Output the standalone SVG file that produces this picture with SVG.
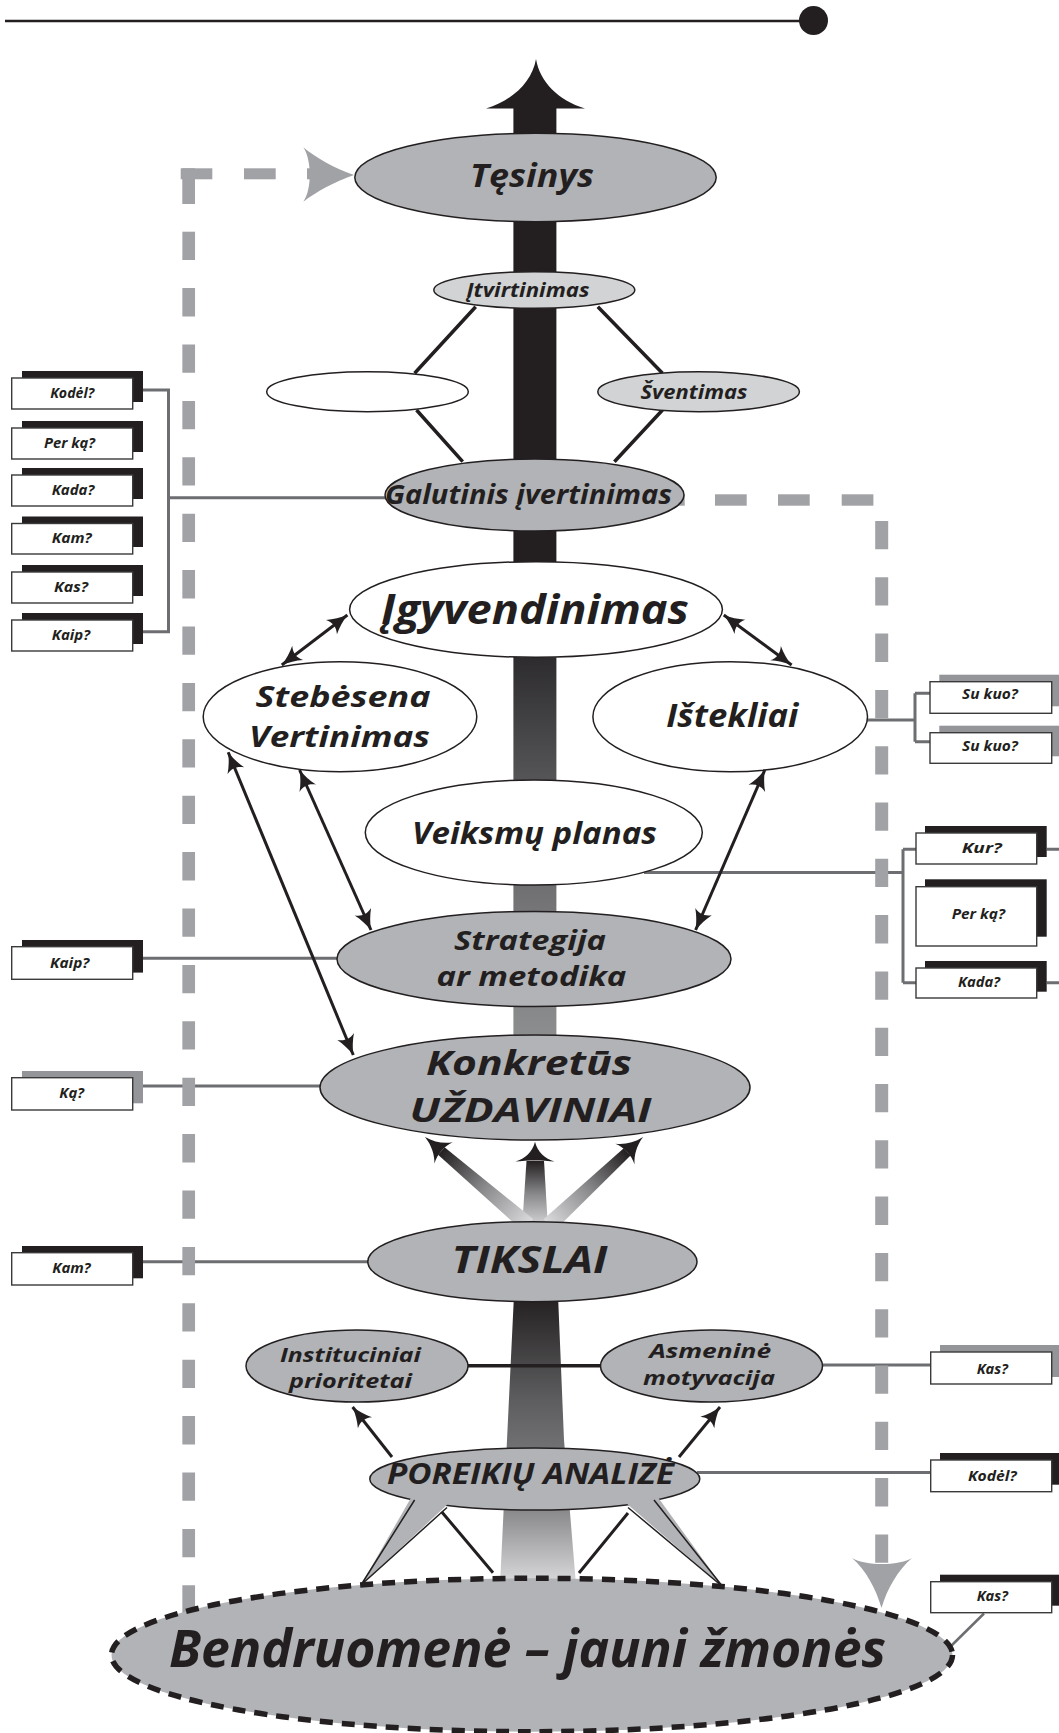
<svg xmlns="http://www.w3.org/2000/svg" width="1059" height="1733" viewBox="0 0 1059 1733">
<style>
.t{font-family:"Open Sans","Liberation Sans",sans-serif;font-weight:700;font-style:italic;fill:#231f20;text-anchor:middle}
.q{font-size:13.5px}
.e{stroke:#231f20;stroke-width:1.5}
.g{fill:#b1b3b6}
.lg{fill:#d1d3d4}
.w{fill:#fff}
.box{fill:#fff;stroke:#3a3a3a;stroke-width:1.4}
.sb{fill:#231f20}
.sg{fill:#939598}
.con{fill:none;stroke:#6d6e71;stroke-width:3}
.dash{fill:#a1a2a5}
.blk{fill:none;stroke:#231f20;stroke-width:3.5}
.arr{fill:none;stroke:#231f20;stroke-width:3;marker-start:url(#ah);marker-end:url(#ah)}
.arr1{fill:none;stroke:#231f20;stroke-width:3;marker-end:url(#ah)}
</style>
<defs>
<marker id="ah" viewBox="-21 -10 22 20" refX="0" refY="0" markerWidth="22" markerHeight="20" markerUnits="userSpaceOnUse" orient="auto-start-reverse">
<path d="M0,0 C-7,-2 -14,-5 -20,-9 C-16,-3 -16,3 -20,9 C-14,5 -7,2 0,0 Z" fill="#231f20"/>
</marker>
<linearGradient id="shaftG" gradientUnits="userSpaceOnUse" x1="0" y1="108" x2="0" y2="1045">
<stop offset="0" stop-color="#231f20"/>
<stop offset="0.482" stop-color="#231f20"/>
<stop offset="0.589" stop-color="#2e2c2e"/>
<stop offset="0.717" stop-color="#555557"/>
<stop offset="0.845" stop-color="#737376"/>
<stop offset="1" stop-color="#8e8f91"/>
</linearGradient>
<linearGradient id="trunkG" gradientUnits="userSpaceOnUse" x1="0" y1="1295" x2="0" y2="1585">
<stop offset="0" stop-color="#231f20"/>
<stop offset="0.362" stop-color="#5d5d5f"/>
<stop offset="0.752" stop-color="#8c8c8e"/>
<stop offset="1" stop-color="#dcdcde"/>
</linearGradient>
<linearGradient id="armG" x1="0" y1="1" x2="0" y2="0">
<stop offset="0" stop-color="#dadadc"/>
<stop offset="0.5" stop-color="#8a8a8c"/>
<stop offset="1" stop-color="#231f20"/>
</linearGradient>
</defs>

<g id="topline">
<line x1="5" y1="21" x2="805" y2="21" stroke="#231f20" stroke-width="2.6"/>
<ellipse cx="813.5" cy="20.5" rx="14.5" ry="14.5" fill="#231f20"/>
</g>

<g id="spine">
<rect x="513.4" y="106" width="43" height="940" fill="url(#shaftG)"/>
<path d="M536,59 C540,82 558,100 585,108.5 L486,108.5 C513,100 532,82 536,59 Z" fill="#231f20"/>
<path d="M514,1295 L558,1295 L564,1440 L576,1585 L500,1585 L507,1440 Z" fill="url(#trunkG)"/>
</g>

<g id="goal-arrows">
<g transform="translate(535,1228)">
<path d="M-13,0 L13,0 L9,-67 L-8.5,-67 Z" fill="url(#armG)"/>
<path d="M0,-86.3 C2.5,-76 10,-69.5 19.5,-66.5 C8,-68 -8,-68 -19.5,-66.5 C-10,-69.5 -2.5,-76 0,-86.3 Z" fill="#231f20"/>
</g>
<g transform="translate(528,1225) rotate(-49.5)">
<path d="M-8,0 L8,0 L5,-114 L-5,-114 Z" fill="url(#armG)"/>
<path d="M0,-135.5 C2,-125 7,-117 14,-111 C5,-115 -5,-115 -14,-111 C-7,-117 -2,-125 0,-135.5 Z" fill="#231f20"/>
</g>
<g transform="translate(549,1225) rotate(46.9)">
<path d="M-8,0 L8,0 L5,-107 L-5,-107 Z" fill="url(#armG)"/>
<path d="M0,-128.8 C2,-118 7,-110 14,-104 C5,-108 -5,-108 -14,-104 C-7,-110 -2,-118 0,-128.8 Z" fill="#231f20"/>
</g>
</g>

<g id="connectors">
<path class="blk" d="M475.7,306.7 L414.6,373.3 M597.8,306.7 L662.5,373.3 M416.5,410 L462.7,461.7 M662.5,410 L614.4,461.7"/>
<path class="con" d="M142.7,390 H168.5 V631.7 H142.7 M168.5,497.7 H390"/>
<path class="con" d="M142.7,958.3 H340 M142.7,1086 H322 M142.7,1261.7 H370"/>
<path class="con" d="M866,720 H915 M915,693.3 V741.7 M915,693.3 H930 M915,741.7 H930"/>
<path class="con" d="M644,872.5 H903 M903,849.3 V982.7 M903,849.3 H916 M903,982.7 H916 M1046.7,849.3 H1059 M1046.7,982.7 H1059"/>
<path class="con" d="M820,1365 H930.7 M697,1472.5 H930.7"/>
<path d="M984,1613.5 L949,1648" fill="none" stroke="#6d6e71" stroke-width="2.5"/>
<path class="blk" d="M468,1365.7 H601" stroke-width="3"/>
</g>

<g id="loop">
<rect class="dash" x="180.7" y="168.3" width="31.6" height="11"/>
<rect class="dash" x="182.3" y="168.3" width="12.7" height="35.7"/>
<rect class="dash" x="244" y="168.3" width="31.7" height="11"/>
<rect class="dash" x="307" y="168.3" width="10" height="11"/>
<line x1="188.7" y1="231.7" x2="188.7" y2="1640" stroke="#a1a2a5" stroke-width="12.7" stroke-dasharray="28.3 28.1"/>
<path d="M354,175 C334,168 316,158 303.3,147.3 C312,160 312,190 303.3,201.7 C316,192 334,182 354,175 Z" fill="#a1a2a5"/>
<rect class="dash" x="653" y="494.3" width="31.7" height="11.4"/>
<rect class="dash" x="715" y="494.3" width="31.7" height="11.4"/>
<rect class="dash" x="778" y="494.3" width="31.7" height="11.4"/>
<rect class="dash" x="841.7" y="494.3" width="31.7" height="11.4"/>
<line x1="881.7" y1="521" x2="881.7" y2="1563" stroke="#a1a2a5" stroke-width="13" stroke-dasharray="28.3 28"/>
<path d="M881.5,1608 C876,1589 866,1570 852,1558 C866,1566 898,1566 912,1558 C898,1570 887,1589 881.5,1608 Z" fill="#a1a2a5"/>
</g>

<g id="n-tesinys">
<ellipse class="e g" cx="535.5" cy="177.5" rx="180.7" ry="44.2"/>
<text class="t" x="532" y="187" font-size="32" textLength="124" lengthAdjust="spacingAndGlyphs">Tęsinys</text>
</g>
<g id="n-itvirtinimas">
<ellipse class="e lg" cx="534.3" cy="290" rx="100.5" ry="18.3"/>
<text class="t" x="528" y="296.5" font-size="20" textLength="123" lengthAdjust="spacingAndGlyphs">Įtvirtinimas</text>
</g>
<g id="n-empty">
<ellipse class="e w" cx="367.5" cy="391.7" rx="100.8" ry="20"/>
</g>
<g id="n-sventimas">
<ellipse class="e lg" cx="698.6" cy="391.7" rx="100.8" ry="20"/>
<text class="t" x="694" y="399" font-size="20" textLength="107" lengthAdjust="spacingAndGlyphs">Šventimas</text>
</g>
<g id="n-galutinis">
<ellipse class="e g" cx="534.5" cy="495" rx="149.5" ry="36"/>
<text class="t" x="528.5" y="503.5" font-size="26" textLength="287" lengthAdjust="spacingAndGlyphs">Galutinis įvertinimas</text>
</g>
<g id="n-igyvendinimas">
<ellipse class="e w" cx="536" cy="609.5" rx="186.4" ry="47.8"/>
<text class="t" x="535" y="624" font-size="42" textLength="308" lengthAdjust="spacingAndGlyphs">Įgyvendinimas</text>
</g>
<g id="n-stebesena">
<ellipse class="e w" cx="340" cy="716.7" rx="136.8" ry="55"/>
<text class="t" x="343" y="707" font-size="29" textLength="175" lengthAdjust="spacingAndGlyphs">Stebėsena</text>
<text class="t" x="339.5" y="747" font-size="29" textLength="181" lengthAdjust="spacingAndGlyphs">Vertinimas</text>
</g>
<g id="n-istekliai">
<ellipse class="e w" cx="730.2" cy="716.7" rx="137.3" ry="55"/>
<text class="t" x="732.3" y="727" font-size="33" textLength="132" lengthAdjust="spacingAndGlyphs">Ištekliai</text>
</g>
<g id="n-veiksmu">
<ellipse class="e w" cx="533.8" cy="832.5" rx="168.5" ry="52.5"/>
<text class="t" x="534.5" y="844" font-size="31" textLength="245" lengthAdjust="spacingAndGlyphs">Veiksmų planas</text>
</g>
<g id="n-strategija">
<ellipse class="e g" cx="534" cy="959" rx="197" ry="47.5"/>
<text class="t" x="530" y="949.5" font-size="26" textLength="152" lengthAdjust="spacingAndGlyphs">Strategija</text>
<text class="t" x="531.4" y="985.5" font-size="26" textLength="190" lengthAdjust="spacingAndGlyphs">ar metodika</text>
</g>
<g id="n-konkretus">
<ellipse class="e g" cx="535" cy="1087.5" rx="215" ry="52.5"/>
<text class="t" x="528.9" y="1075" font-size="34" textLength="206" lengthAdjust="spacingAndGlyphs">Konkretūs</text>
<text class="t" x="530.5" y="1121.7" font-size="34" textLength="242" lengthAdjust="spacingAndGlyphs">UŽDAVINIAI</text>
</g>
<g id="n-tikslai">
<ellipse class="e g" cx="532.4" cy="1261.7" rx="164.6" ry="40"/>
<text class="t" x="529.5" y="1273" font-size="38" textLength="156" lengthAdjust="spacingAndGlyphs">TIKSLAI</text>
</g>
<g id="n-instituciniai">
<ellipse class="e g" cx="357" cy="1366" rx="111" ry="36"/>
<text class="t" x="350.4" y="1362" font-size="19" textLength="141" lengthAdjust="spacingAndGlyphs">Instituciniai</text>
<text class="t" x="350.5" y="1388" font-size="19" textLength="123" lengthAdjust="spacingAndGlyphs">prioritetai</text>
</g>
<g id="n-asmenine">
<ellipse class="e g" cx="711.5" cy="1366" rx="111" ry="36"/>
<text class="t" x="710.2" y="1358" font-size="19.5" textLength="122" lengthAdjust="spacingAndGlyphs">Asmeninė</text>
<text class="t" x="709" y="1385" font-size="19.5" textLength="132" lengthAdjust="spacingAndGlyphs">motyvacija</text>
</g>
<g id="n-bendruomene">
<ellipse cx="532" cy="1655" rx="420.5" ry="76.7" fill="#b1b3b6" stroke="#231f20" stroke-width="5.5" stroke-dasharray="13 9"/>
<text class="t" x="527.5" y="1667" font-size="52" textLength="717" lengthAdjust="spacingAndGlyphs">Bendruomenė – jauni žmonės</text>
</g>
<g id="n-poreikiu">
<ellipse class="e g" cx="534.8" cy="1479" rx="165" ry="31"/>
<path d="M412,1496 L361,1585 L449,1503 Z M626,1503 L723,1587 L657,1496 Z" fill="#b1b3b6"/>
<path d="M414.6,1500 L361,1585 L447,1507.5 M628,1507.5 L723,1587 L654,1500" fill="none" stroke="#231f20" stroke-width="1.5" stroke-linejoin="miter"/>
<path d="M441.6,1511.7 L493,1572.7 M628,1513 L579,1573" fill="none" stroke="#231f20" stroke-width="3"/>
<text class="t" x="530.5" y="1484" font-size="28" textLength="287" lengthAdjust="spacingAndGlyphs">POREIKIŲ ANALIZĖ</text>
</g>

<g id="arrows">
<line class="arr" x1="347.4" y1="615" x2="281.8" y2="665"/>
<line class="arr" x1="723.8" y1="615" x2="791.6" y2="665"/>
<line class="arr" x1="299.6" y1="770" x2="371" y2="930"/>
<line class="arr" x1="764.8" y1="770" x2="695.6" y2="930"/>
<line class="arr" x1="228.2" y1="752.3" x2="353.3" y2="1055"/>
<line class="arr1" x1="392" y1="1457" x2="352.6" y2="1407"/>
<line class="arr1" x1="679" y1="1457" x2="720" y2="1407"/>
</g>

<g id="q-left">
<g><rect class="sb" x="22" y="371" width="121" height="31"/><rect class="box" x="11.7" y="378" width="121" height="31"/><text class="t q" x="72.2" y="398" textLength="44" lengthAdjust="spacingAndGlyphs">Kodėl?</text></g>
<g><rect class="sb" x="22" y="421" width="121" height="31"/><rect class="box" x="11.7" y="428" width="121" height="31"/><text class="t q" x="69.5" y="447.5" textLength="51" lengthAdjust="spacingAndGlyphs">Per ką?</text></g>
<g><rect class="sb" x="22" y="468" width="121" height="31"/><rect class="box" x="11.7" y="475" width="121" height="31"/><text class="t q" x="73" y="495" textLength="42.6" lengthAdjust="spacingAndGlyphs">Kada?</text></g>
<g><rect class="sb" x="22" y="516.5" width="121" height="30.5"/><rect class="box" x="11.7" y="523.5" width="121" height="30.5"/><text class="t q" x="71.7" y="543" textLength="40" lengthAdjust="spacingAndGlyphs">Kam?</text></g>
<g><rect class="sb" x="22" y="565" width="121" height="31"/><rect class="box" x="11.7" y="572" width="121" height="31"/><text class="t q" x="71" y="592" textLength="34" lengthAdjust="spacingAndGlyphs">Kas?</text></g>
<g><rect class="sb" x="22" y="613" width="121" height="31"/><rect class="box" x="11.7" y="620" width="121" height="31"/><text class="t q" x="70.9" y="640" textLength="38.3" lengthAdjust="spacingAndGlyphs">Kaip?</text></g>
<g><rect class="sb" x="22" y="940" width="121" height="32.6"/><rect class="box" x="11.7" y="946.7" width="121" height="32.6"/><text class="t q" x="69.7" y="967.7" textLength="39.3" lengthAdjust="spacingAndGlyphs">Kaip?</text></g>
<g><rect class="sg" x="22" y="1071" width="121" height="32.3"/><rect class="box" x="11.7" y="1077.7" width="121" height="32.3"/><text class="t q" x="71.7" y="1097.7" textLength="24.7" lengthAdjust="spacingAndGlyphs">Ką?</text></g>
<g><rect class="sb" x="22" y="1246" width="121" height="32.3"/><rect class="box" x="11.7" y="1252.7" width="121" height="32.3"/><text class="t q" x="71.5" y="1273.3" textLength="38.4" lengthAdjust="spacingAndGlyphs">Kam?</text></g>
</g>

<g id="q-right">
<g><rect class="sg" x="939.3" y="674.7" width="121.7" height="31.6"/><rect class="box" x="930" y="681.7" width="121.7" height="31.6"/><text class="t q" x="990" y="699.3" textLength="56" lengthAdjust="spacingAndGlyphs">Su kuo?</text></g>
<g><rect class="sg" x="939.3" y="725.7" width="121.7" height="30.6"/><rect class="box" x="930" y="732.7" width="121.7" height="30.6"/><text class="t q" x="990" y="750.7" textLength="56" lengthAdjust="spacingAndGlyphs">Su kuo?</text></g>
<g><rect class="sb" x="925" y="826" width="121.7" height="31"/><rect class="box" x="916" y="833" width="120.7" height="31"/><text class="t q" x="981.7" y="853.3" textLength="40" lengthAdjust="spacingAndGlyphs">Kur?</text></g>
<g><rect class="sb" x="925" y="879.3" width="121.7" height="57.4"/><rect class="box" x="916" y="886.7" width="120.7" height="59.3"/><text class="t q" x="978.3" y="919.3" textLength="53.3" lengthAdjust="spacingAndGlyphs">Per ką?</text></g>
<g><rect class="sb" x="925" y="961" width="121.7" height="30.7"/><rect class="box" x="916" y="968" width="120.7" height="30"/><text class="t q" x="979" y="986.7" textLength="42" lengthAdjust="spacingAndGlyphs">Kada?</text></g>
<g><rect class="sg" x="940" y="1345" width="121" height="32"/><rect class="box" x="930.7" y="1352" width="121" height="32"/><text class="t q" x="992.3" y="1374" textLength="31.3" lengthAdjust="spacingAndGlyphs">Kas?</text></g>
<g><rect class="sb" x="940" y="1453" width="121" height="31.7"/><rect class="box" x="930.7" y="1460" width="121" height="31.7"/><text class="t q" x="992.3" y="1480.7" textLength="48.7" lengthAdjust="spacingAndGlyphs">Kodėl?</text></g>
<g><rect class="sb" x="940" y="1574.7" width="121" height="31"/><rect class="box" x="930.7" y="1581.7" width="121" height="31"/><text class="t q" x="992.3" y="1601" textLength="31.3" lengthAdjust="spacingAndGlyphs">Kas?</text></g>
</g>
</svg>
